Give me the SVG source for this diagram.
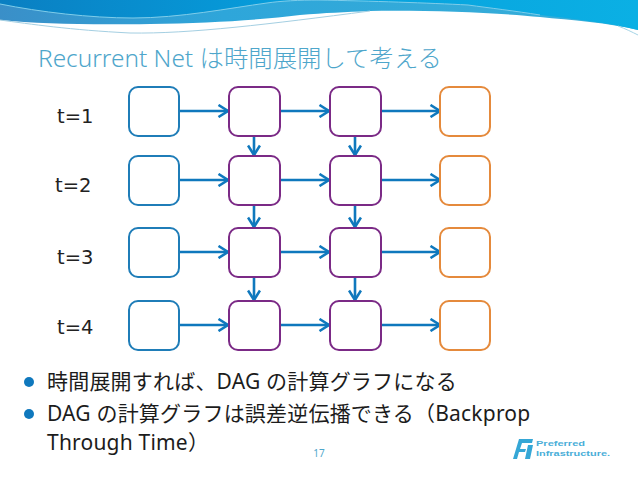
<svg xmlns="http://www.w3.org/2000/svg" width="638" height="479" viewBox="0 0 638 479">
<defs>
<linearGradient id="g" x1="0" y1="0" x2="1" y2="0"><stop offset="0" stop-color="#0a7fc2"/><stop offset="0.45" stop-color="#069edc"/><stop offset="1" stop-color="#0bb0e4"/></linearGradient>
<linearGradient id="h" x1="0" y1="0" x2="1" y2="0"><stop offset="0" stop-color="#3a8fc8"/><stop offset="0.35" stop-color="#2ea6da"/><stop offset="1" stop-color="#38aed8"/></linearGradient>
<marker id="a" viewBox="0 0 14 14" refX="12.5" refY="7" markerWidth="14" markerHeight="14" markerUnits="userSpaceOnUse" orient="auto"><path d="M3 1L12.5 7L3 13" fill="none" stroke="#0f78bd" stroke-width="2.6"/></marker>
</defs>
<style>
text{font-family:"Noto Sans","Noto Sans CJK JP",sans-serif}
.n{fill:#fff;stroke-width:2}
.b{stroke:#1f7db8}.p{stroke:#7b2a86}.o{stroke:#e58a3c}
.c line{stroke:#0f78bd;stroke-width:2.6;marker-end:url(#a)}
.t{font-family:"DejaVu Sans",sans-serif;font-size:19.5px;fill:#222}
.l{font-size:21px;fill:#1c1c1c;letter-spacing:.2px}
.m{font-family:"Liberation Sans",sans-serif;font-size:7.5px;font-weight:700;fill:#4aaed8}
</style>
<rect width="638" height="479" fill="#fff"/>
<g id="banner">
<path d="M0 0H638V30C610 23 570 20 540 17C500 13 430 10 370 11C345 12 325 13 300 15C260 20 210 23 150 24C90 25 40 24 0 20Z" fill="url(#h)"/>
<path d="M0 4C40 12 90 18 133 18C180 18 230 8 267 3C280 1 295 0 318 0C370 2 440 3 468 5C490 8 515 12 540 15C575 19 610 23 638 30V0H0Z" fill="url(#g)"/>
<path d="M0 4C40 12 90 18 133 18C180 18 230 8 267 3C280 1 300 0 318 0C370 1 430 3 468 5C490 8 515 11 540 15" fill="none" stroke="#7fcdea" stroke-width="1"/>
<path d="M0 20C30 24 70 30 130 33C190 34 270 24 370 11" fill="none" stroke="#a4cfe2" stroke-width="1"/>
<path d="M618 26C626 29 632 32 638 35" fill="none" stroke="#a4d4e6" stroke-width="1"/>
</g>
<text id="title" x="38" y="67" font-size="24.4" fill="#4ea6cb" font-weight="300">Recurrent Net は時間展開して考える</text>
<g id="labels">
<text class="t" x="57" y="123">t=1</text>
<text class="t" x="55" y="192">t=2</text>
<text class="t" x="57" y="264">t=3</text>
<text class="t" x="57" y="334">t=4</text>
</g>
<g id="connectors" class="c">
<line x1="179" y1="111" x2="228" y2="111"/><line x1="280" y1="111" x2="329" y2="111"/><line x1="381" y1="111" x2="440" y2="111"/>
<line x1="179" y1="180" x2="228" y2="180"/><line x1="280" y1="180" x2="329" y2="180"/><line x1="381" y1="180" x2="440" y2="180"/>
<line x1="179" y1="252" x2="228" y2="252"/><line x1="280" y1="252" x2="329" y2="252"/><line x1="381" y1="252" x2="440" y2="252"/>
<line x1="179" y1="325" x2="228" y2="325"/><line x1="280" y1="325" x2="329" y2="325"/><line x1="381" y1="325" x2="440" y2="325"/>
<line x1="254" y1="136" x2="254" y2="155"/><line x1="355" y1="136" x2="355" y2="155"/>
<line x1="254" y1="205" x2="254" y2="227"/><line x1="355" y1="205" x2="355" y2="227"/>
<line x1="254" y1="277" x2="254" y2="300"/><line x1="355" y1="277" x2="355" y2="300"/>
</g>
<g id="n11"><rect class="n b" x="129" y="87" width="50" height="49" rx="9"/></g>
<g id="n12"><rect class="n p" x="229" y="87" width="51" height="49" rx="9"/></g>
<g id="n13"><rect class="n p" x="330" y="87" width="51" height="49" rx="9"/></g>
<g id="n14"><rect class="n o" x="440" y="87" width="50" height="49" rx="9"/></g>
<g id="n21"><rect class="n b" x="129" y="156" width="50" height="49" rx="9"/></g>
<g id="n22"><rect class="n p" x="229" y="156" width="51" height="49" rx="9"/></g>
<g id="n23"><rect class="n p" x="330" y="156" width="51" height="49" rx="9"/></g>
<g id="n24"><rect class="n o" x="440" y="156" width="50" height="49" rx="9"/></g>
<g id="n31"><rect class="n b" x="129" y="228" width="50" height="49" rx="9"/></g>
<g id="n32"><rect class="n p" x="229" y="228" width="51" height="49" rx="9"/></g>
<g id="n33"><rect class="n p" x="330" y="228" width="51" height="49" rx="9"/></g>
<g id="n34"><rect class="n o" x="440" y="228" width="50" height="49" rx="9"/></g>
<g id="n41"><rect class="n b" x="129" y="301" width="50" height="49" rx="9"/></g>
<g id="n42"><rect class="n p" x="229" y="301" width="51" height="49" rx="9"/></g>
<g id="n43"><rect class="n p" x="330" y="301" width="51" height="49" rx="9"/></g>
<g id="n44"><rect class="n o" x="440" y="301" width="50" height="49" rx="9"/></g>
<g id="bullets">
<circle cx="29" cy="382" r="5" fill="#0f78bd"/>
<circle cx="29" cy="414" r="5" fill="#0f78bd"/>
<text class="l" x="47" y="389">時間展開すれば、DAG の計算グラフになる</text>
<text class="l" x="47" y="421">DAG の計算グラフは誤差逆伝播できる（Backprop</text>
<text class="l" x="47" y="450">Through Time）</text>
</g>
<text id="page" x="319" y="457" font-size="10" text-anchor="middle" fill="#4ea6cb">17</text>
<g id="logo">
<path d="M519 439H533L532 443H522L520 449H526L525 452H519L517 459H513ZM528 445H533L530 459H525Z" fill="#35a7d6"/>
<text class="m" x="536" y="446" textLength="49" lengthAdjust="spacingAndGlyphs">Preferred</text>
<text class="m" x="536" y="456" textLength="74" lengthAdjust="spacingAndGlyphs">Infrastructure.</text>
</g>
</svg>
